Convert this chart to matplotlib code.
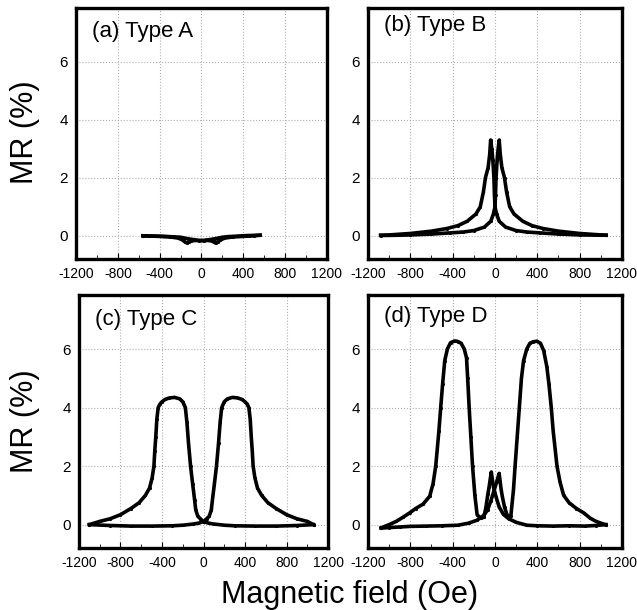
import matplotlib
matplotlib.use('Agg')
import matplotlib.pyplot as plt
from matplotlib.ticker import MultipleLocator

plt.rcParams['font.family'] = ['Liberation Sans', 'DejaVu Sans']
plt.rcParams['axes.unicode_minus'] = False

# (a) Type A
a_down_x = [560, 450, 350, 250, 200, 160, 130, 100, 60, 20, -20, -60, -100, -120, -135, -155, -180, -220, -300, -400, -500, -560]
a_down_y = [0.02, 0.01, -0.01, -0.03, -0.05, -0.08, -0.1, -0.12, -0.14, -0.16, -0.17, -0.16, -0.18, -0.22, -0.25, -0.22, -0.15, -0.08, -0.04, -0.02, -0.01, 0.0]
a_up_x = [-560, -450, -350, -250, -200, -160, -130, -100, -60, -20, 20, 60, 100, 120, 135, 155, 180, 220, 300, 400, 500, 560]
a_up_y = [0.0, -0.01, -0.02, -0.04, -0.05, -0.08, -0.1, -0.12, -0.14, -0.16, -0.17, -0.16, -0.18, -0.22, -0.25, -0.22, -0.15, -0.08, -0.04, -0.02, 0.0, 0.02]

# (b) Type B
b_down_x = [1050, 1000, 800, 600, 425, 300, 200, 100, 40, 15, 0, -5, -10, -20, -30, -41, -50, -65, -90, -110, -139, -180, -263, -350, -455, -600, -800, -1000, -1080]
b_down_y = [0.02, 0.02, 0.03, 0.06, 0.1, 0.13, 0.18, 0.3, 0.5, 0.75, 1.0, 1.4, 2.0, 2.6, 3.0, 3.3, 2.8, 2.35, 2.0, 1.5, 1.0, 0.75, 0.5, 0.35, 0.25, 0.16, 0.08, 0.03, 0.02]
b_up_x = [-1080, -900, -800, -600, -425, -300, -200, -100, -40, -15, 0, 5, 10, 20, 30, 40, 50, 65, 90, 110, 139, 180, 263, 350, 455, 600, 800, 1000, 1050]
b_up_y = [0.01, 0.02, 0.03, 0.06, 0.1, 0.13, 0.18, 0.3, 0.5, 0.75, 1.0, 1.4, 2.0, 2.6, 3.0, 3.3, 2.8, 2.35, 2.0, 1.5, 1.0, 0.75, 0.5, 0.35, 0.25, 0.16, 0.08, 0.03, 0.02]

# (c) Type C
c_down_x = [1060, 900, 700, 500, 300, 200, 100, 50, 0, -30, -54, -75, -86, -105, -125, -145, -160, -175, -200, -230, -280, -330, -370, -400, -420, -437, -450, -460, -470, -478, -495, -520, -560, -620, -700, -800, -900, -1000, -1100]
c_down_y = [0.0, -0.03, -0.05, -0.05, -0.04, -0.02, 0.02, 0.05, 0.1, 0.2, 0.28, 0.5, 0.85, 1.4, 2.0, 2.8, 3.5, 4.0, 4.2, 4.3, 4.35, 4.33, 4.28, 4.2, 4.12, 4.0, 3.6, 3.0, 2.5, 2.0, 1.6, 1.25, 1.0, 0.75, 0.55, 0.34, 0.2, 0.11, 0.0]
c_up_x = [-1100, -900, -700, -500, -300, -200, -100, -50, 0, 30, 54, 75, 86, 105, 125, 145, 160, 175, 200, 230, 280, 330, 370, 400, 420, 437, 450, 460, 470, 478, 495, 520, 560, 620, 700, 800, 900, 1000, 1060]
c_up_y = [0.0, -0.03, -0.05, -0.05, -0.04, -0.02, 0.02, 0.05, 0.1, 0.2, 0.28, 0.5, 0.85, 1.4, 2.0, 2.8, 3.5, 4.0, 4.2, 4.3, 4.35, 4.33, 4.28, 4.2, 4.12, 4.0, 3.6, 3.0, 2.5, 2.0, 1.6, 1.25, 1.0, 0.75, 0.55, 0.34, 0.2, 0.11, 0.0]

# (d) Type D
d_down_x = [1050, 950, 850, 700, 550, 400, 300, 200, 130, 80, 40, 10, -15, -35, -45, -55, -67, -85, -105, -135, -169, -190, -212, -228, -244, -258, -269, -290, -320, -350, -380, -420, -450, -475, -495, -513, -530, -545, -560, -585, -617, -680, -750, -807, -870, -934, -1000, -1076]
d_down_y = [0.0, -0.03, -0.05, -0.04, -0.05, -0.04, -0.02, 0.08, 0.2, 0.35, 0.6, 0.95, 1.3, 1.8, 1.55, 1.3, 1.05, 0.6, 0.25, 0.22, 0.34, 1.0, 2.0, 3.0, 4.0, 5.0, 5.7, 6.0, 6.2, 6.26, 6.28, 6.22, 6.0, 5.6, 4.8, 4.0, 3.2, 2.6, 2.0, 1.4, 0.97, 0.7, 0.55, 0.4, 0.25, 0.11, 0.0, -0.11]
d_up_x = [-1076, -1000, -900, -800, -650, -500, -350, -250, -170, -110, -70, -40, -10, 15, 39, 48, 58, 70, 90, 119, 150, 175, 190, 210, 230, 250, 270, 300, 330, 360, 396, 430, 460, 490, 510, 532, 550, 568, 586, 615, 649, 700, 770, 839, 900, 950, 1000, 1045]
d_up_y = [-0.12, -0.1, -0.08, -0.06, -0.05, -0.04, -0.02, 0.05, 0.15, 0.3, 0.5, 0.8, 1.15, 1.45, 1.75, 1.5, 1.2, 0.95, 0.6, 0.28, 0.3, 1.2, 2.0, 3.0, 4.0, 5.0, 5.6, 6.0, 6.2, 6.25, 6.27, 6.2, 5.95, 5.4, 4.8, 4.0, 3.2, 2.6, 2.0, 1.45, 1.0, 0.75, 0.55, 0.4, 0.22, 0.12, 0.05, 0.0]

panels = [
	('(a) Type A', a_down_x, a_down_y, a_up_x, a_up_y),
	('(b) Type B', b_down_x, b_down_y, b_up_x, b_up_y),
	('(c) Type C', c_down_x, c_down_y, c_up_x, c_up_y),
	('(d) Type D', d_down_x, d_down_y, d_up_x, d_up_y),
]
boxes = [
	[0.1193, 0.5754, 0.3940, 0.4115],
	[0.5777, 0.5754, 0.3987, 0.4115],
	[0.1240, 0.1016, 0.3910, 0.4148],
	[0.5777, 0.1016, 0.3987, 0.4148],
]
label_y = [0.905, 0.93, 0.905, 0.915]

fig = plt.figure(figsize=(6.37, 6.10), dpi=100)

for i in range(4):
	title, xd, yd, xu, yu = panels[i]
	ax = fig.add_axes(boxes[i])
	ax.plot(xd, yd, color='black', lw=2.6, marker='.', ms=2.5, solid_joinstyle='round')
	ax.plot(xu, yu, color='black', lw=2.6, marker='.', ms=2.5, solid_joinstyle='round')
	ax.set_xlim(-1200, 1200)
	ax.set_ylim(-0.8, 7.85)
	ax.xaxis.set_major_locator(MultipleLocator(400))
	ax.xaxis.set_minor_locator(MultipleLocator(200))
	ax.set_yticks([0, 2, 4, 6])
	ax.grid(True, which='major', color='#b0b0b0', linestyle=':', linewidth=0.8)
	ax.tick_params(axis='x', which='both', direction='in', top=False, labelsize=10, pad=6)
	ax.tick_params(axis='x', which='major', length=4)
	ax.tick_params(axis='x', which='minor', length=3)
	ax.tick_params(axis='y', length=0, labelsize=11, pad=6)
	for s in ax.spines.values():
		s.set_linewidth(2.4)
	ax.text(0.064, label_y[i], title, transform=ax.transAxes, fontsize=16, va='center', ha='left')

fig.text(0.04, 0.783, 'MR (%)', rotation=90, fontsize=22, ha='center', va='center')
fig.text(0.04, 0.31, 'MR (%)', rotation=90, fontsize=22, ha='center', va='center')
fig.text(0.548, 0.025, 'Magnetic field (Oe)', fontsize=22, ha='center', va='center')

fig.savefig('out.png', dpi=100)
